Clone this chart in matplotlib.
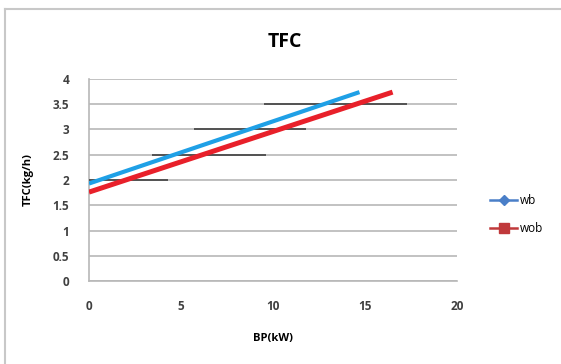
import matplotlib.pyplot as plt
from matplotlib.lines import Line2D

# readings from the reference chart
bp_wb = [0, 14.7]
tfc_wb = [1.93, 3.74]
bp_wob = [0, 16.5]
tfc_wob = [1.76, 3.74]

# horizontal black bars (y level, x start, x end)
bar_y = [2.0, 2.5, 3.0, 3.5]
bar_x0 = [0.0, 3.4, 5.7, 9.5]
bar_x1 = [4.3, 9.6, 11.8, 17.3]

x_ticks = [0, 5, 10, 15, 20]
y_ticks = [0, 0.5, 1, 1.5, 2, 2.5, 3, 3.5, 4]

plt.rcParams['font.family'] = ['Open Sans', 'DejaVu Sans']

fig = plt.figure(figsize=(5.61, 3.64), dpi=100)
ax = fig.add_axes([0.1586, 0.228, 0.656, 0.555])

ax.hlines(bar_y, bar_x0, bar_x1, colors='#404040', linewidth=1.2, zorder=3)
ax.plot(bp_wb, tfc_wb, color='#1fa0e6', linewidth=3, zorder=4, solid_capstyle='butt')
ax.plot(bp_wob, tfc_wob, color='#e8202a', linewidth=3.6, zorder=4, solid_capstyle='butt')

ax.set_xlim(0, 20)
ax.set_ylim(0, 4)
ax.set_xticks(x_ticks)
ax.set_yticks(y_ticks)
ax.set_yticklabels(['0', '0.5', '1', '1.5', '2', '2.5', '3', '3.5', '4'])
ax.grid(axis='y', color='#b8b8b8', linewidth=1.2)
ax.set_axisbelow(True)
for s in ['top', 'right']:
    ax.spines[s].set_visible(False)
ax.spines['left'].set_color('#b8b8b8')
ax.spines['bottom'].set_color('#b8b8b8')
ax.spines['left'].set_linewidth(1.2)
ax.spines['bottom'].set_linewidth(1.2)
ax.tick_params(length=0, labelsize=8.5, labelcolor='#404040')
for lab in ax.get_xticklabels() + ax.get_yticklabels():
    lab.set_fontweight('bold')
ax.tick_params(axis='y', pad=14)
ax.tick_params(axis='x', pad=14)

ax.set_xlabel('BP(kW)', fontsize=8, fontweight='bold', labelpad=14)
ax.set_ylabel('TFC(kg/h)', fontsize=8, fontweight='bold', labelpad=14)
fig.text(0.507, 0.885, 'TFC', fontsize=14, fontweight='bold', ha='center', va='center')

# legend entries with markers
h1, = ax.plot([], [], color='#4a7fc8', linewidth=1.8, marker='D', markersize=5)
h2, = ax.plot([], [], color='#c0393b', linewidth=1.8, marker='s', markersize=7)
fig.legend([h1, h2], ['wb', 'wob'], loc='center left', bbox_to_anchor=(0.855, 0.41),
           frameon=False, fontsize=8.5, handlelength=2.3, handletextpad=0.2,
           labelspacing=1.3)

# chart area border (only left and top edges are visible in the crop)
fig.add_artist(Line2D([0.009, 0.009], [0.0, 0.975], transform=fig.transFigure,
                      color='#c8c8c8', linewidth=1.5))
fig.add_artist(Line2D([0.009, 1.0], [0.975, 0.975], transform=fig.transFigure,
                      color='#c8c8c8', linewidth=1.5))

fig.savefig('out.png', dpi=100)
